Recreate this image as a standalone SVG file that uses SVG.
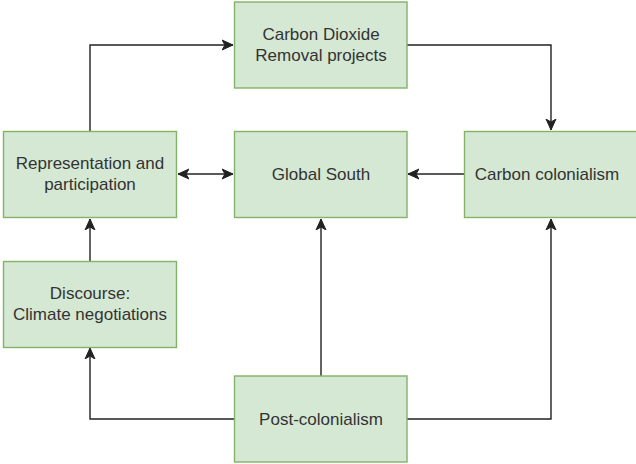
<svg xmlns="http://www.w3.org/2000/svg" width="636" height="464" viewBox="0 0 636 464">
<style>
.box{fill:#d5e8d4;stroke:#82b366;stroke-width:1.4}
.lbl{font-family:"Liberation Sans",Arial,Helvetica,sans-serif;font-size:17px;fill:#333333;text-anchor:middle}
.edge{fill:none;stroke:#222222;stroke-width:1.4}
</style>
<defs>
<marker id="arr" markerUnits="userSpaceOnUse" markerWidth="12" markerHeight="12" viewBox="0 0 12 12" refX="11" refY="6" orient="auto-start-reverse">
<path d="M0,1 L11,6 L0,11 L3,6 Z" fill="#222222" stroke="#222222" stroke-width="1"/>
</marker>
</defs>
<g id="connectors">
<path class="edge" d="M90,131 L90,45 L233,45" marker-end="url(#arr)"/>
<path class="edge" d="M407,45 L551,45 L551,130" marker-end="url(#arr)"/>
<path class="edge" d="M464,174 L408,174" marker-end="url(#arr)"/>
<path class="edge" d="M178,174 L233,174" marker-start="url(#arr)" marker-end="url(#arr)"/>
<path class="edge" d="M321,376 L321,219" marker-end="url(#arr)"/>
<path class="edge" d="M235,419 L90,419 L90,348" marker-end="url(#arr)"/>
<path class="edge" d="M407,419 L551,419 L551,219" marker-end="url(#arr)"/>
<path class="edge" d="M90,261 L90,219" marker-end="url(#arr)"/>
</g>
<g id="cdr">
<rect class="box" x="234.5" y="2" width="172.5" height="86"/>
<text class="lbl" x="321" y="40">Carbon Dioxide</text>
<text class="lbl" x="321" y="61">Removal projects</text>
</g>
<g id="representation">
<rect class="box" x="3.5" y="131.5" width="173" height="86"/>
<text class="lbl" x="90" y="169">Representation and</text>
<text class="lbl" x="90" y="190">participation</text>
</g>
<g id="global-south">
<rect class="box" x="234.5" y="131.5" width="172.5" height="86"/>
<text class="lbl" x="321" y="180">Global South</text>
</g>
<g id="carbon-colonialism">
<rect class="box" x="464.5" y="131.5" width="173" height="86"/>
<text class="lbl" x="547" y="180">Carbon colonialism</text>
</g>
<g id="discourse">
<rect class="box" x="3.5" y="261.5" width="173" height="86"/>
<text class="lbl" x="90" y="299">Discourse:</text>
<text class="lbl" x="90" y="320">Climate negotiations</text>
</g>
<g id="post-colonialism">
<rect class="box" x="234.5" y="376" width="172.5" height="86"/>
<text class="lbl" x="321" y="425">Post-colonialism</text>
</g>
</svg>
